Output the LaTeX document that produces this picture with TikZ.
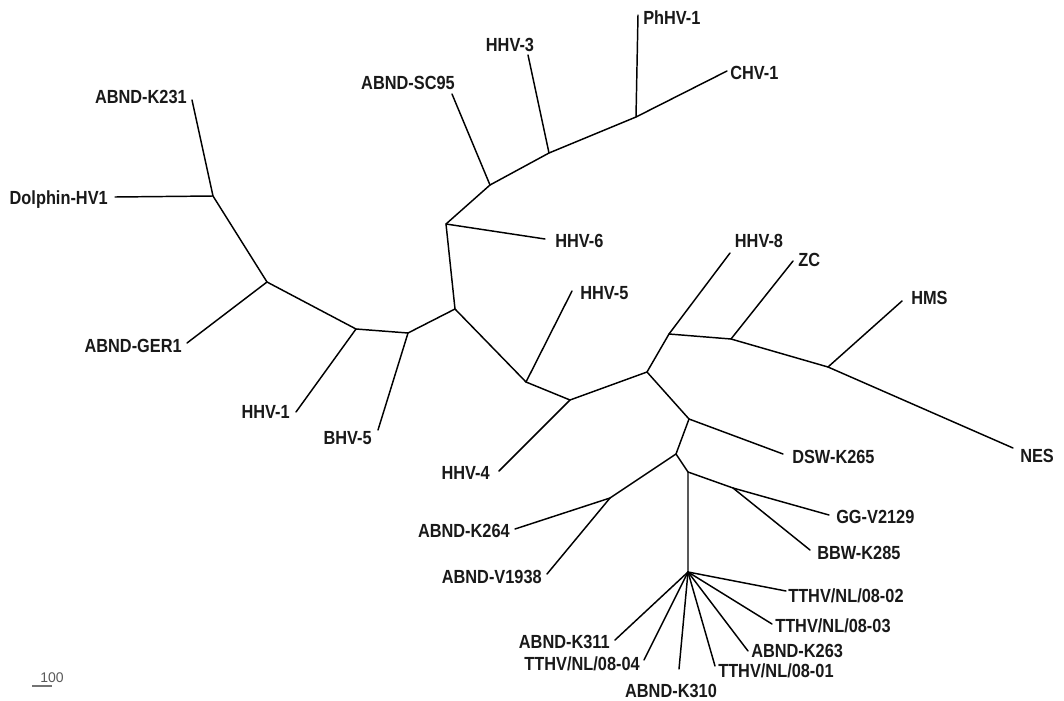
\documentclass[tikz,border=0pt]{standalone}
\usepackage{fontspec}
\newfontfamily\labfont{Liberation Sans}[FakeStretch=0.86]
\newfontfamily\numfont{Liberation Sans}
\begin{document}
\begin{tikzpicture}[x=0.75pt,y=-0.75pt,
  br/.style={line width=1.1pt, line join=round, line cap=round, draw=black},
  lab/.style={inner sep=0pt, font=\labfont\bfseries\fontsize{14.25}{16}\selectfont, text=black!90}]
\useasboundingbox (0,0) rectangle (1064,700);
% internal nodes
\coordinate (n1) at (213,196);
\coordinate (n2) at (267,282);
\coordinate (n3) at (356,329);
\coordinate (n4) at (408,333);
\coordinate (c) at (455,309);
\coordinate (n5) at (446,224);
\coordinate (s1) at (490,185);
\coordinate (s2) at (549,153);
\coordinate (s3) at (636,117);
\coordinate (n6) at (526,382);
\coordinate (n7) at (570,400);
\coordinate (n8) at (647,372);
\coordinate (n9) at (669,334);
\coordinate (n11) at (731,339);
\coordinate (n12) at (828,367);
\coordinate (n10) at (689,419);
\coordinate (n13) at (676,454);
\coordinate (n14) at (610,498);
\coordinate (n15) at (688,472);
\coordinate (n16) at (733,488);
\coordinate (fan) at (688,572);
% leaf ends
\coordinate (eK231) at (192,100);
\coordinate (eDol) at (115,197);
\coordinate (eGER) at (187,343);
\coordinate (eH1) at (296,412);
\coordinate (eB5) at (378,430);
\coordinate (eH4) at (499,471);
\coordinate (eK264) at (515,529);
\coordinate (eV1938) at (547,574);
\coordinate (eK311) at (615,640);
\coordinate (e0804) at (644,660);
\coordinate (eK310) at (679,669);
\coordinate (e0801) at (715,666);
\coordinate (eK263) at (748,651);
\coordinate (e0803) at (772,624);
\coordinate (e0802) at (786,591);
\coordinate (eBBW) at (810,550);
\coordinate (eGG) at (829,515);
\coordinate (eDSW) at (783,454);
\coordinate (eNES) at (1013,448);
\coordinate (eHMS) at (902,301);
\coordinate (eZC) at (793,261);
\coordinate (eH8) at (730,253);
\coordinate (eH5) at (572,291);
\coordinate (eH6) at (545,239);
\coordinate (eCHV) at (727,71);
\coordinate (ePh) at (638,15);
\coordinate (eH3) at (528,55);
\coordinate (eSC) at (452,94);
% branches
\draw[br] (eK231) -- (n1) -- (n2) -- (n3) -- (n4) -- (c) -- (n5) -- (s1) -- (s2) -- (s3) -- (eCHV);
\draw[br] (eDol) -- (n1);
\draw[br] (eGER) -- (n2);
\draw[br] (eH1) -- (n3);
\draw[br] (eB5) -- (n4);
\draw[br] (eH6) -- (n5);
\draw[br] (eSC) -- (s1);
\draw[br] (eH3) -- (s2);
\draw[br] (ePh) -- (s3);
\draw[br] (c) -- (n6) -- (n7) -- (n8) -- (n9) -- (n11) -- (n12) -- (eNES);
\draw[br] (eH5) -- (n6);
\draw[br] (eH4) -- (n7);
\draw[br] (eH8) -- (n9);
\draw[br] (eZC) -- (n11);
\draw[br] (eHMS) -- (n12);
\draw[br] (n8) -- (n10) -- (n13) -- (n15) -- (fan);
\draw[br] (eDSW) -- (n10);
\draw[br] (n13) -- (n14) -- (eK264);
\draw[br] (eV1938) -- (n14);
\draw[br] (n15) -- (n16) -- (eGG);
\draw[br] (eBBW) -- (n16);
\foreach \e in {eK311,e0804,eK310,e0801,eK263,e0803,e0802}
  \draw[br] (fan) -- (\e);
% labels
\node[lab, anchor=base east] (lK231) at (187,103) {ABND-K231};
\node[lab, anchor=base east] (lDol) at (108,204) {Dolphin-HV1};
\node[lab, anchor=base east] (lGER) at (182,352) {ABND-GER1};
\node[lab, anchor=base east] (lH1) at (290,418) {HHV-1};
\node[lab, anchor=base east] (lB5) at (372,444) {BHV-5};
\node[lab, anchor=base east] (lH4) at (490,479) {HHV-4};
\node[lab, anchor=base east] (lK264) at (510,537) {ABND-K264};
\node[lab, anchor=base east] (lV1938) at (542,583) {ABND-V1938};
\node[lab, anchor=base east] (lK311) at (610,648) {ABND-K311};
\node[lab, anchor=base east] (l0804) at (640,670) {TTHV/NL/08-04};
\node[lab, anchor=base] (lK310) at (671,697) {ABND-K310};
\node[lab, anchor=base west] (l0801) at (718,677) {TTHV/NL/08-01};
\node[lab, anchor=base west] (lK263) at (751,657) {ABND-K263};
\node[lab, anchor=base west] (l0803) at (775,632) {TTHV/NL/08-03};
\node[lab, anchor=base west] (l0802) at (788,602) {TTHV/NL/08-02};
\node[lab, anchor=base west] (lBBW) at (817,559) {BBW-K285};
\node[lab, anchor=base west] (lGG) at (836,523) {GG-V2129};
\node[lab, anchor=base west] (lDSW) at (792,463) {DSW-K265};
\node[lab, anchor=base west] (lNES) at (1020,462) {NES};
\node[lab, anchor=base west] (lHMS) at (911,304) {HMS};
\node[lab, anchor=base west] (lZC) at (798,266) {ZC};
\node[lab, anchor=base] (lH8) at (759,247) {HHV-8};
\node[lab, anchor=base west] (lH5) at (580,299) {HHV-5};
\node[lab, anchor=base west] (lH6) at (555,247) {HHV-6};
\node[lab, anchor=base west] (lCHV) at (730,79) {CHV-1};
\node[lab, anchor=base west] (lPh) at (643,24) {PhHV-1};
\node[lab, anchor=base] (lH3) at (510,51) {HHV-3};
\node[lab, anchor=base east] (lSC) at (455,89) {ABND-SC95};
% scale bar
\coordinate (sbA) at (32,686);
\coordinate (sbB) at (52,686);
\draw[line width=0.9pt, draw=black!55] (sbA) -- (sbB);
\node[inner sep=0pt, anchor=base west, font=\numfont\fontsize{10.5}{12}\selectfont, text=black!65] (sbl) at (40,682) {100};
\end{tikzpicture}
\end{document}
